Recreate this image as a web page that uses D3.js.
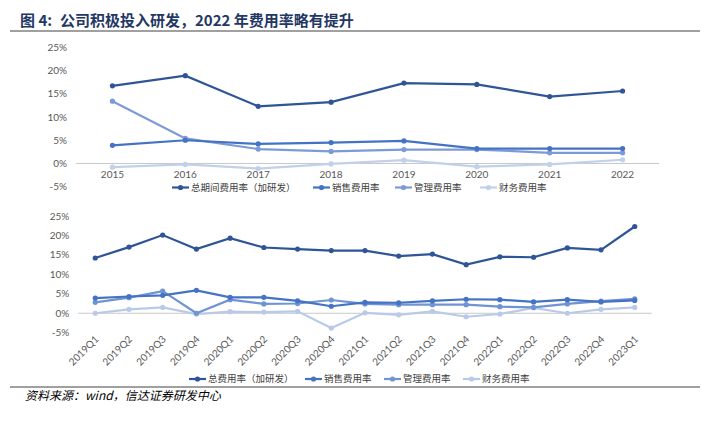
<!DOCTYPE html>
<html>
<head>
<meta charset="utf-8">
<script src="https://cdn.jsdelivr.net/npm/d3@7"></script>
<style>
  body { margin: 0; background: #fff; }
  text { font-family: "Noto Sans CJK SC", sans-serif; }
</style>
</head>
<body>
<svg id="chart" width="706" height="428"></svg>
<script>
// annual data 2015-2022
const years = ['2015', '2016', '2017', '2018', '2019', '2020', '2021', '2022'];
const yearTotal = [16.7, 18.9, 12.3, 13.2, 17.3, 17.0, 14.4, 15.6];
const yearSales = [3.9, 5.0, 4.2, 4.5, 4.85, 3.2, 3.2, 3.2];
const yearAdmin = [13.4, 5.4, 3.1, 2.6, 3.0, 3.0, 2.3, 2.3];
const yearFin = [-0.8, -0.2, -1.1, -0.1, 0.7, -0.7, -0.2, 0.8];
const yearNames = ['总期间费用率（加研发）', '销售费用率', '管理费用率', '财务费用率'];

// quarterly data 2019Q1-2023Q1
const quarters = ['2019Q1', '2019Q2', '2019Q3', '2019Q4', '2020Q1', '2020Q2', '2020Q3', '2020Q4',
  '2021Q1', '2021Q2', '2021Q3', '2021Q4', '2022Q1', '2022Q2', '2022Q3', '2022Q4', '2023Q1'];
const qTotal = [14.2, 17.0, 20.1, 16.5, 19.3, 16.9, 16.5, 16.1, 16.1, 14.7, 15.2, 12.5, 14.5, 14.4, 16.8, 16.3, 22.3];
const qSales = [3.9, 4.3, 4.6, 5.9, 4.1, 4.1, 3.2, 1.8, 2.8, 2.7, 3.2, 3.6, 3.5, 2.9, 3.5, 2.9, 3.3];
const qAdmin = [2.8, 4.0, 5.7, 0.0, 3.5, 2.4, 2.5, 3.4, 2.4, 2.2, 2.2, 2.2, 1.7, 1.5, 2.4, 3.1, 3.7];
const qFin = [0.0, 1.0, 1.5, -0.2, 0.4, 0.3, 0.5, -3.8, 0.1, -0.4, 0.5, -0.9, -0.2, 1.4, 0.0, 1.0, 1.5];
const qNames = ['总费用率（加研发）', '销售费用率', '管理费用率', '财务费用率'];

const yTicks = [-5, 0, 5, 10, 15, 20, 25];
const colors = ['#2F5597', '#4472C4', '#6F93D3', '#B9CAE8'];
const topColors = ['#2F5597', '#4472C4', '#7C9BD6', '#C2D0EA'];

const svg = d3.select('#chart');

// title
const title = svg.append('g')
    .attr('font-size', 15).attr('font-weight', 'bold')
    .attr('fill', '#1F3864');
title.append('text').attr('x', 20).attr('y', 26).text('图 4:');
title.append('text').attr('x', 60).attr('y', 26).text('公司积极投入研发，2022 年费用率略有提升');
svg.append('line')
    .attr('x1', 10).attr('x2', 700).attr('y1', 31).attr('y2', 31)
    .attr('stroke', '#808080').attr('stroke-width', 1.5);

function panel({ cats, series, names, cols, xRange, yRange, rotate, labelY, legendY, legendX }) {
  const x = d3.scalePoint().domain(cats).range(xRange).padding(0.5);
  const y = d3.scaleLinear().domain([-5, 25]).range(yRange);
  const g = svg.append('g');

  // y labels
  g.append('g').selectAll('text')
    .data(yTicks)
    .join('text')
      .attr('x', xRange[0] - 9)
      .attr('y', d => y(d))
      .attr('dy', '0.35em')
      .attr('text-anchor', 'end')
      .attr('font-size', 10)
      .attr('fill', '#595959')
      .style('font-family', 'Lato, sans-serif')
      .text(d => d + '%');

  // zero line
  g.append('line')
      .attr('x1', xRange[0]).attr('x2', xRange[1])
      .attr('y1', y(0)).attr('y2', y(0))
      .attr('stroke', '#C8C8C8').attr('stroke-width', 1);

  // x labels
  const xl = g.append('g').selectAll('text')
    .data(cats)
    .join('text')
      .attr('font-size', 10)
      .attr('fill', '#595959')
      .style('font-family', 'Lato, sans-serif')
      .text(d => d);
  if (rotate) {
    xl.attr('text-anchor', 'end')
      .attr('transform', d => `translate(${x(d) + 4},${labelY}) rotate(-45)`);
  } else {
    xl.attr('text-anchor', 'middle')
      .attr('x', d => x(d)).attr('y', labelY);
  }

  // lines, drawn lightest first
  const line = d3.line().x((d, i) => x(cats[i])).y(d => y(d));
  series.map((s, k) => ({ s, k })).reverse().forEach(({ s, k }) => {
    g.append('path')
        .attr('d', line(s))
        .attr('fill', 'none')
        .attr('stroke', cols[k])
        .attr('stroke-width', 2.2);
    g.append('g').selectAll('circle')
      .data(s)
      .join('circle')
        .attr('cx', (d, i) => x(cats[i]))
        .attr('cy', d => y(d))
        .attr('r', 2.6)
        .attr('fill', cols[k]);
  });

  // legend
  const lg = g.append('g').attr('transform', `translate(0,${legendY})`);
  names.forEach((n, k) => {
    const lx = legendX[k];
    lg.append('line')
        .attr('x1', lx).attr('x2', lx + 17)
        .attr('stroke', cols[k]).attr('stroke-width', 2.2);
    lg.append('circle').attr('cx', lx + 8.5).attr('r', 2.6).attr('fill', cols[k]);
    lg.append('text')
        .attr('x', lx + 19).attr('dy', '0.35em')
        .attr('font-size', 9.5).attr('fill', '#404040')
        .text(n);
  });
}

panel({
  cats: years,
  series: [yearTotal, yearSales, yearAdmin, yearFin],
  names: yearNames,
  cols: topColors,
  xRange: [76, 659],
  yRange: [186.7, 47.3],
  rotate: false,
  labelY: 177.5,
  legendY: 187.5,
  legendX: [172, 313, 395, 480]
});

panel({
  cats: quarters,
  series: [qTotal, qSales, qAdmin, qFin],
  names: qNames,
  cols: colors,
  xRange: [78.4, 651.6],
  yRange: [332.7, 216],
  rotate: true,
  labelY: 340,
  legendY: 379,
  legendX: [189, 305, 384, 463]
});

// source
svg.append('line')
    .attr('x1', 10).attr('x2', 700).attr('y1', 387).attr('y2', 387)
    .attr('stroke', '#808080').attr('stroke-width', 1.5);
svg.append('text')
    .attr('x', 25).attr('y', 400)
    .attr('font-size', 12).attr('font-style', 'italic')
    .attr('fill', '#000')
    .text('资料来源：wind，信达证券研发中心');
</script>
</body>
</html>
